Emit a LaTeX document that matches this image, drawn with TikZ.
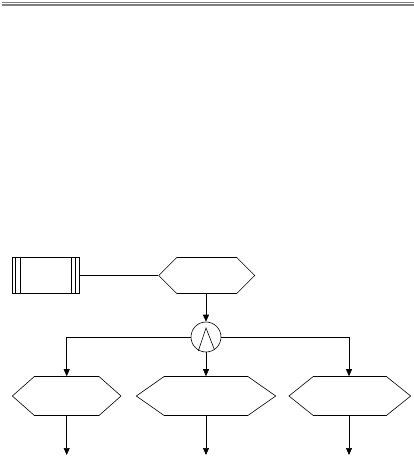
\documentclass[tikz,border=0pt]{standalone}
\usetikzlibrary{arrows.meta, shapes.symbols, positioning}
\begin{document}
\begin{tikzpicture}[x=1pt, y=-1pt, >={Triangle[width=6pt,length=7pt]}, line width=0.6pt,
  hexa/.style={draw, shape=signal, signal to=west and east, inner sep=0pt},
  ]
  \useasboundingbox (0,0) rectangle (414,460);
  % header rule
  \draw[gray, line width=1.2pt] (2,2.6) -- (414,2.6);
  \draw[gray, line width=1.2pt] (2,5) -- (414,5);
  % data store with double bars
  \node[draw, minimum width=67pt, minimum height=36.4pt, inner sep=0pt] (store) at (45.8,275.5) {};
  \draw ([xshift=3.4pt]store.north west) -- ([xshift=3.4pt]store.south west);
  \draw ([xshift=8.4pt]store.north west) -- ([xshift=8.4pt]store.south west);
  \draw ([xshift=-4pt]store.north east) -- ([xshift=-4pt]store.south east);
  \draw ([xshift=-8.6pt]store.north east) -- ([xshift=-8.6pt]store.south east);
  % hexagons
  \node[hexa, minimum width=96pt, minimum height=36pt, signal pointer angle=90] (hq) at (206.8,275.5) {};
  \node[hexa, minimum width=108.7pt, minimum height=39pt, signal pointer angle=83] (left) at (66.7,396) {};
  \node[hexa, minimum width=139.4pt, minimum height=39pt, signal pointer angle=70] (mid) at (206,396) {};
  \node[hexa, minimum width=121.7pt, minimum height=39pt, signal pointer angle=77.5] (right) at (349.8,396) {};
  % junction
  \node[draw, circle, minimum size=30pt, inner sep=0pt] (and) at (206,337) {};
  \draw ([shift={(-7.7,14)}]and.center) -- ([shift={(0,-9)}]and.center) -- ([shift={(8.3,12.3)}]and.center);
  % free ends of outputs
  \coordinate (out1) at (66.7,455);
  \coordinate (out2) at (206,455);
  \coordinate (out3) at (349,455);
  % connectors
  \draw (store.east) -- (hq.west);
  \draw[->] (hq.south -| and.north) -- (and.north);
  \draw[->] (and.west) -| (left.north);
  \draw[->] (and.south) -- (mid.north);
  \draw[->] (and.east) -| (right.north -| out3);
  \draw[->] (left.south) -- (out1);
  \draw[->] (mid.south) -- (out2);
  \draw[->] (right.south -| out3) -- (out3);
\end{tikzpicture}
\end{document}
